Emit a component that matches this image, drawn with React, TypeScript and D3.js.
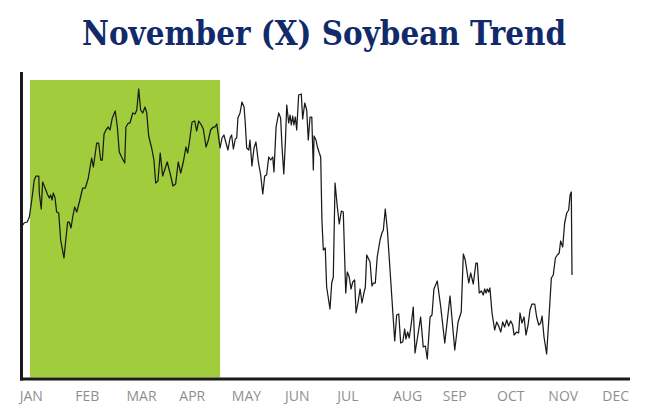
import * as d3 from "d3";

// day of year for each session
const DAYS: number[] = [
  9.5, 10.9, 12.7, 13.9, 15.3, 16.7, 17.7, 19.3, 19.6, 20.7, 21.5, 22.9, 24.2, 25.3, 26.1, 26.9, 27.6, 28.6, 29.5, 30.7,
  31.8, 33.7, 34.9, 35.8, 36.7, 37.7, 38.7, 39.8, 41.0, 42.5, 44.4, 45.9, 47.6, 49.5, 50.5, 52.4, 53.5, 54.7, 55.6, 56.6,
  57.7, 59.0, 60.0, 61.3, 63.0, 64.2, 65.3, 66.9, 68.4, 69.1, 70.5, 71.4, 73.0, 74.3, 75.3, 76.4, 77.5, 78.7, 80.0, 81.0,
  82.1, 83.8, 85.1, 86.1, 87.4, 88.7, 90.1, 91.6, 92.7, 94.3, 96.0, 97.5, 99.0, 100.4, 101.9, 103.4, 104.4, 105.3, 106.9, 108.4,
  109.5, 110.7, 112.2, 113.3, 114.9, 116.2, 117.5, 119.0, 120.0, 121.0, 121.9, 122.9, 124.0, 125.1, 126.3, 127.4, 128.6, 129.5, 130.5, 131.6,
  132.4, 133.1, 134.3, 135.4, 136.6, 137.3, 138.1, 139.3, 140.0, 141.1, 142.3, 143.4, 144.7, 146.1, 147.3, 148.4, 149.5, 150.7, 151.8, 153.0,
  153.7, 154.9, 156.4, 157.5, 158.3, 159.3, 160.2, 161.0, 162.1, 162.9, 163.6, 164.4, 165.1, 165.9, 166.7, 167.8, 169.3, 170.1, 171.3, 172.4,
  173.3, 174.3, 175.3, 176.2, 176.6, 177.7, 178.5, 179.6, 180.4, 181.1, 181.9, 183.0, 183.8, 185.7, 186.7, 187.6, 188.6, 189.9, 191.0, 192.2,
  193.3, 194.7, 195.6, 196.7, 197.7, 198.7, 199.8, 200.6, 201.7, 202.9, 204.0, 205.1, 205.9, 206.7, 208.6, 209.7, 210.5, 211.6, 212.7, 214.3,
  215.4, 216.2, 217.3, 218.5, 220.4, 222.7, 223.8, 225.0, 226.1, 227.3, 228.4, 229.1, 230.1, 231.0, 232.2, 233.3, 234.3, 236.2, 237.5, 239.0,
  240.2, 241.3, 242.9, 244.0, 245.1, 247.0, 249.0, 251.3, 254.3, 257.0, 258.9, 260.7, 261.9, 263.0, 265.0, 266.1, 267.6, 269.1, 269.9, 271.0,
  272.2, 273.3, 274.1, 274.9, 275.6, 276.4, 277.1, 278.3, 279.8, 281.0, 282.1, 283.3, 284.4, 285.5, 286.7, 287.8, 289.0, 290.1, 290.9, 292.4,
  293.5, 294.3, 295.4, 296.6, 297.7, 298.9, 300.0, 301.1, 302.7, 303.8, 305.0, 306.1, 306.9, 308.0, 309.5, 311.0, 312.2, 313.3, 314.5, 315.6,
  316.7, 317.5, 318.7, 319.8, 321.0, 322.1, 322.9, 323.6, 324.0,
];

// settle price, $/bu
const PRICES: number[] = [
  10.03, 10.07, 10.08, 10.13, 10.30, 10.50, 10.54, 10.54, 10.37, 10.21, 10.48, 10.42, 10.36, 10.32, 10.35, 10.30, 10.37, 10.32, 10.18, 10.17,
  9.90, 9.72, 9.93, 10.08, 10.08, 10.02, 10.13, 10.23, 10.18, 10.28, 10.42, 10.42, 10.52, 10.72, 10.63, 10.87, 10.87, 10.70, 10.70, 10.96,
  11.00, 11.03, 11.00, 11.12, 11.19, 11.03, 10.78, 10.72, 10.67, 11.03, 11.07, 11.07, 11.17, 11.16, 11.20, 11.41, 11.20, 11.17, 11.23, 11.17,
  10.94, 10.82, 10.70, 10.47, 10.49, 10.77, 10.54, 10.62, 10.68, 10.57, 10.44, 10.46, 10.68, 10.57, 10.68, 10.83, 10.77, 10.87, 11.08, 11.09,
  10.99, 11.09, 11.05, 11.01, 10.83, 10.90, 11.00, 11.03, 11.03, 11.06, 10.95, 10.82, 10.92, 10.95, 10.87, 10.80, 10.92, 10.95, 10.81, 10.91,
  10.92, 11.12, 11.17, 11.28, 11.23, 11.07, 10.82, 10.80, 10.90, 10.64, 10.82, 10.88, 10.69, 10.55, 10.36, 10.54, 10.55, 10.73, 10.70, 10.73,
  10.58, 11.03, 11.17, 11.12, 10.83, 10.56, 10.87, 11.25, 11.07, 11.15, 11.05, 11.14, 11.05, 11.13, 11.00, 11.35, 11.36, 11.11, 11.27, 11.20,
  10.90, 11.13, 11.13, 10.60, 10.94, 10.90, 10.83, 10.77, 10.73, 10.10, 9.80, 9.82, 9.43, 9.21, 9.47, 9.53, 10.47, 10.23, 10.06, 10.19,
  10.18, 9.37, 9.58, 9.53, 9.41, 9.48, 9.50, 9.17, 9.27, 9.41, 9.27, 9.37, 9.43, 9.75, 9.68, 9.44, 9.47, 9.47, 9.73, 9.90,
  9.97, 10.00, 10.21, 10.00, 9.50, 8.89, 9.15, 9.16, 8.87, 8.88, 9.01, 8.91, 8.98, 8.92, 9.07, 9.23, 8.77, 8.98, 9.13, 8.83,
  8.84, 8.71, 9.13, 9.15, 9.41, 9.49, 9.23, 8.87, 9.34, 8.80, 9.08, 9.18, 9.76, 9.70, 9.47, 9.57, 9.46, 9.67, 9.67, 9.37,
  9.39, 9.35, 9.41, 9.37, 9.41, 9.38, 9.42, 9.17, 9.00, 9.08, 9.04, 8.98, 9.08, 9.03, 9.10, 9.04, 9.09, 9.05, 8.95, 8.98,
  8.97, 9.17, 9.07, 9.13, 8.95, 9.05, 9.20, 9.26, 9.26, 9.13, 9.05, 9.07, 9.14, 8.93, 8.76, 9.17, 9.52, 9.55, 9.72, 9.75,
  9.77, 9.89, 9.83, 10.07, 10.17, 10.20, 10.35, 10.38, 9.55,
];

const MONTHS = ["JAN", "FEB", "MAR", "APR", "MAY", "JUN", "JUL", "AUG", "SEP", "OCT", "NOV", "DEC"];
const MONTH_LABEL_DAYS = [15, 47, 78, 107, 138, 167, 196, 230, 257, 289, 319, 349];

// seasonal high window (green band)
const BAND_START = 14.3;
const BAND_END = 122.9;
const BAND_TOP = 11.5;

const W = 650;
const H = 417;

export default function App() {
  const x = d3.scaleLinear().domain([0, 365]).range([5, 5 + 365 * 1.75]);
  const y = d3.scaleLinear().domain([8.5, 11.5]).range([380, 80]);

  const points = DAYS.map((d, i) => [d, PRICES[i]] as [number, number]);
  const line = d3
    .line<[number, number]>()
    .x((p) => x(p[0]))
    .y((p) => y(p[1]));

  const axisY = 379;
  const axisX = 21.5;

  return (
    <svg
      width={W}
      height={H}
      style={{ position: "absolute", left: 0, top: 0, background: "#fff" }}
    >
      <text
        x={324}
        y={44.5}
        textAnchor="middle"
        fontFamily="'DejaVu Serif', serif"
        fontWeight="bold"
        fontSize={33}
        fill="#112a6b"
        textLength={484}
        lengthAdjust="spacingAndGlyphs"
      >
        November (X) Soybean Trend
      </text>

      <rect
        x={x(BAND_START)}
        y={y(BAND_TOP)}
        width={x(BAND_END) - x(BAND_START)}
        height={axisY - 1.5 - y(BAND_TOP)}
        fill="#a1cc3c"
      />

      <path d={line(points) ?? ""} fill="none" stroke="#1a1a1a" strokeWidth={1.25} strokeLinejoin="round" />

      <line x1={axisX} x2={axisX} y1={72} y2={axisY + 1.5} stroke="#1a1a1a" strokeWidth={3} />
      <line x1={axisX - 1.5} x2={630} y1={axisY} y2={axisY} stroke="#1a1a1a" strokeWidth={3} />

      {MONTHS.map((m, i) => (
        <text
          key={m}
          x={x(MONTH_LABEL_DAYS[i])}
          y={400.5}
          textAnchor="middle"
          fontFamily="'Open Sans', sans-serif"
          fontSize={14}
          fill="#8f8f8f"
        >
          {m}
        </text>
      ))}
    </svg>
  );
}
